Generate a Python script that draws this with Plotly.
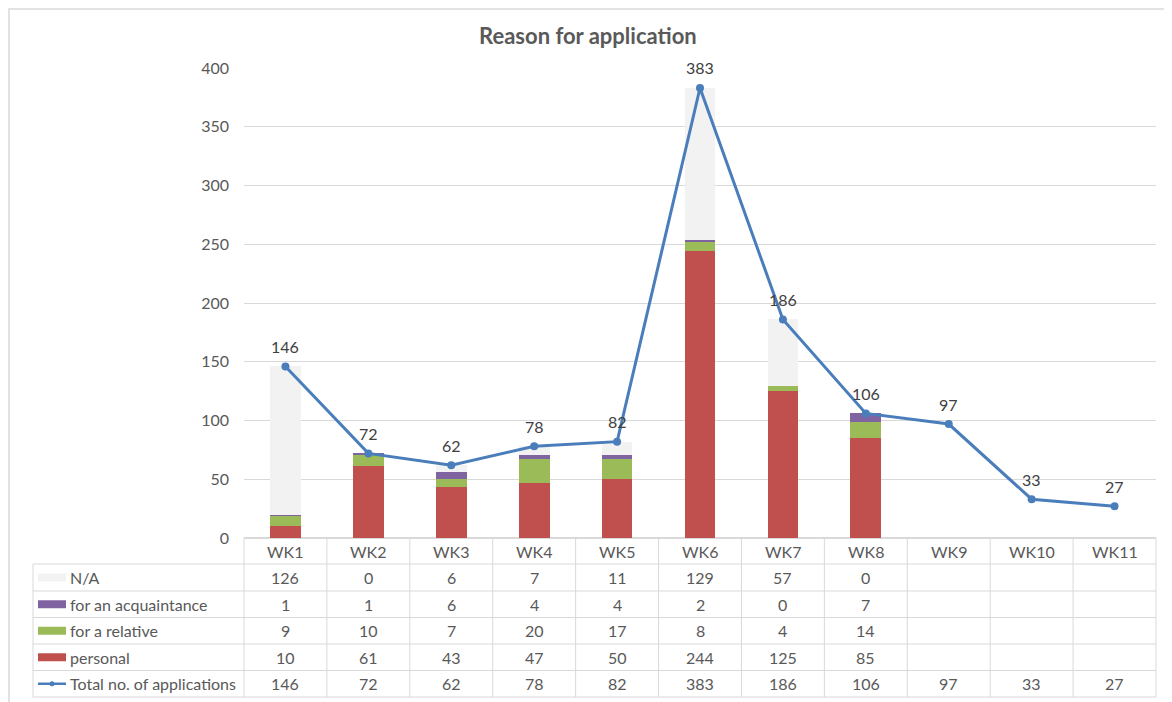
import plotly.graph_objects as go

weeks = ["WK1", "WK2", "WK3", "WK4", "WK5", "WK6", "WK7", "WK8", "WK9", "WK10", "WK11"]
na_vals = [126, 0, 6, 7, 11, 129, 57, 0, None, None, None]
acq_vals = [1, 1, 6, 4, 4, 2, 0, 7, None, None, None]
rel_vals = [9, 10, 7, 20, 17, 8, 4, 14, None, None, None]
pers_vals = [10, 61, 43, 47, 50, 244, 125, 85, None, None, None]
total_vals = [146, 72, 62, 78, 82, 383, 186, 106, 97, 33, 27]

series_names = ["N/A", "for an acquaintance", "for a relative", "personal", "Total no. of applications"]
bar_colors = {"personal": "#c0504d", "for a relative": "#9bbb59",
              "for an acquaintance": "#8064a2", "N/A": "#f2f2f2"}
line_color = "#4a7ebb"

OFF = 8  # default page body margin
W, H = 1172 - OFF, 702 - OFF
L, R, T, B = 236, 16, 60, 164
PW = W - L - R
PH = H - T - B
FONT = "Lato, 'Open Sans', sans-serif"
TXT = "#595959"
GRID = "#d9d9d9"
FS = 16

def px_x(p):
    return (p - OFF - L) / PW

def px_y(p):
    return (H - B - (p - OFF)) / PH

fig = go.Figure()
for name, vals in [("personal", pers_vals), ("for a relative", rel_vals),
                   ("for an acquaintance", acq_vals), ("N/A", na_vals)]:
    fig.add_trace(go.Bar(x=weeks, y=vals, name=name, marker_color=bar_colors[name],
                         marker_line_width=0, width=0.37, showlegend=False))

fig.add_trace(go.Scatter(x=weeks, y=total_vals, mode="lines+markers",
                         line=dict(color=line_color, width=3),
                         marker=dict(color=line_color, size=8),
                         name="Total no. of applications", showlegend=False,
                         cliponaxis=False))

annotations = []
for w, v in zip(weeks, total_vals):
    annotations.append(dict(x=w, y=v, xref="x", yref="y", text=str(v), showarrow=False,
                            yanchor="middle", yshift=20,
                            font=dict(family=FONT, size=FS, color="#404040")))

# title
annotations.append(dict(x=px_x(588), y=px_y(35), xref="paper", yref="paper",
                        xanchor="center", yanchor="middle",
                        text="<b>Reason for application</b>", showarrow=False,
                        font=dict(family=FONT, size=22, color=TXT)))

# table
row_lines = [564, 591, 617.5, 644, 670.5, 697]
header_c = 551
row_centers = [(row_lines[i] + row_lines[i + 1]) / 2 for i in range(5)]
row_data = [na_vals, acq_vals, rel_vals, pers_vals, total_vals]

shapes = []
n = len(weeks)
for k in range(n + 1):
    shapes.append(dict(type="line", xref="paper", yref="paper",
                       x0=k / n, x1=k / n, y0=px_y(538), y1=px_y(697),
                       line=dict(color=GRID, width=1)))
shapes.append(dict(type="line", xref="paper", yref="paper",
                   x0=px_x(33), x1=px_x(33), y0=px_y(564), y1=px_y(697),
                   line=dict(color=GRID, width=1)))
for yl in row_lines:
    shapes.append(dict(type="line", xref="paper", yref="paper",
                       x0=px_x(33), x1=1, y0=px_y(yl), y1=px_y(yl),
                       line=dict(color=GRID, width=1)))
# outer chart border
shapes.append(dict(type="rect", xref="paper", yref="paper",
                   x0=px_x(9), x1=px_x(1168), y0=px_y(712), y1=px_y(9),
                   line=dict(color=GRID, width=1.5), layer="below"))

for w in weeks:
    annotations.append(dict(x=w, y=px_y(header_c), xref="x", yref="paper", text=w,
                            xanchor="center", yanchor="middle",
                            showarrow=False, font=dict(family=FONT, size=FS, color=TXT)))

for r, (name, vals) in enumerate(zip(series_names, row_data)):
    yc = px_y(row_centers[r])
    for w, v in zip(weeks, vals):
        if v is None:
            continue
        annotations.append(dict(x=w, y=yc, xref="x", yref="paper", text=str(v),
                                xanchor="center", yanchor="middle",
                                showarrow=False, font=dict(family=FONT, size=FS, color=TXT)))
    annotations.append(dict(x=px_x(68), y=yc, xref="paper", yref="paper", text=name,
                            xanchor="left", yanchor="middle", showarrow=False,
                            font=dict(family=FONT, size=FS, color=TXT)))
    if name in bar_colors:
        shapes.append(dict(type="rect", xref="paper", yref="paper",
                           x0=px_x(38), x1=px_x(66), y0=px_y(row_centers[r] + 4),
                           y1=px_y(row_centers[r] - 4), fillcolor=bar_colors[name],
                           line=dict(width=0)))
    else:
        shapes.append(dict(type="line", xref="paper", yref="paper",
                           x0=px_x(38), x1=px_x(66), y0=yc, y1=yc,
                           line=dict(color=line_color, width=2.5)))
        shapes.append(dict(type="circle", xref="paper", yref="paper",
                           x0=px_x(49.5), x1=px_x(54.5), y0=px_y(row_centers[r] + 2.5),
                           y1=px_y(row_centers[r] - 2.5), fillcolor=line_color,
                           line=dict(width=0)))

fig.update_layout(
    width=W, height=H, barmode="stack",
    margin=dict(l=L, r=R, t=T, b=B),
    paper_bgcolor="white", plot_bgcolor="white",
    font=dict(family=FONT, size=FS, color=TXT),
    xaxis=dict(type="category", range=[-0.5, n - 0.5], showticklabels=False,
               showgrid=False, zeroline=False, showline=False, ticks=""),
    yaxis=dict(range=[0, 400], dtick=50, showgrid=True, gridcolor=GRID, gridwidth=1,
               zeroline=True, zerolinecolor=GRID, showline=False, ticks="",
               tickfont=dict(family=FONT, size=FS, color=TXT), ticklabelstandoff=14),
    shapes=shapes, annotations=annotations,
)

fig.write_html("out.html")
